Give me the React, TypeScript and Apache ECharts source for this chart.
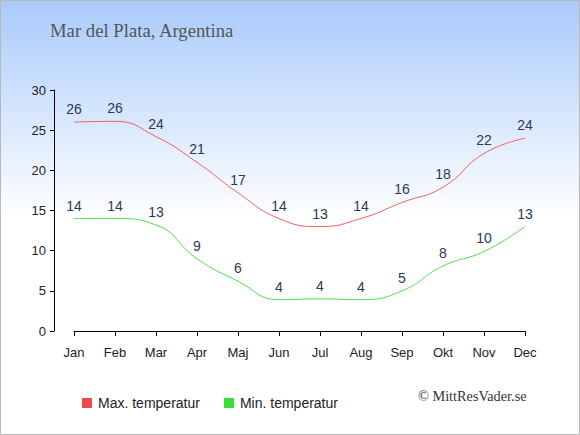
import React, { useEffect, useRef } from "react";
import * as echarts from "echarts";

const months = ["Jan", "Feb", "Mar", "Apr", "Maj", "Jun", "Jul", "Aug", "Sep", "Okt", "Nov", "Dec"];
const maxTemp = [26.0, 26.1, 24.2, 21.0, 17.2, 14.0, 13.0, 14.0, 16.0, 17.9, 22.1, 24.0];
const minTemp = [14.0, 14.0, 13.2, 9.0, 6.2, 3.9, 4.0, 3.9, 5.0, 8.1, 9.9, 13.0];
const yTicks = [0, 5, 10, 15, 20, 25, 30];

const labelStyle = {
  show: true,
  position: "top" as const,
  distance: 6,
  fontSize: 14,
  fontFamily: "Liberation Sans, Arial, sans-serif",
  color: "#2b3a57",
  formatter: (p: any) => String(Math.round(p.value)),
};

export default function App() {
  const ref = useRef<HTMLDivElement>(null);
  useEffect(() => {
    if (!ref.current) return;
    const chart = echarts.init(ref.current, null, { renderer: "svg" });
    chart.setOption({
      animation: false,
      backgroundColor: {
        type: "linear",
        x: 0,
        y: 0,
        x2: 0,
        y2: 1,
        colorStops: [
          { offset: 0, color: "#a9cafb" },
          { offset: 0.5, color: "#ffffff" },
          { offset: 1, color: "#ffffff" },
        ],
      },
      title: {
        text: "Mar del Plata, Argentina",
        left: 50,
        top: 21,
        padding: 0,
        textStyle: {
          fontFamily: "Liberation Serif, serif",
          fontWeight: "normal",
          fontSize: 18.7,
          color: "#555555",
        },
      },
      grid: { left: 74, right: 55, top: 90, bottom: 104 },
      xAxis: {
        type: "category",
        data: months,
        boundaryGap: false,
        offset: 10,
        axisLine: { lineStyle: { color: "#000", width: 1 } },
        axisTick: { show: true, length: 5, lineStyle: { color: "#000" } },
        axisLabel: {
          margin: 5,
          fontSize: 13,
          fontFamily: "Liberation Sans, Arial, sans-serif",
          color: "#222",
        },
        splitLine: { show: false },
      },
      yAxis: {
        type: "value",
        min: yTicks[0],
        max: yTicks[yTicks.length - 1],
        interval: 5,
        offset: 20,
        axisLine: { show: true, lineStyle: { color: "#000", width: 1 } },
        axisTick: { show: true, length: 4, lineStyle: { color: "#000" } },
        axisLabel: {
          margin: 8,
          fontSize: 13,
          fontFamily: "Liberation Sans, Arial, sans-serif",
          color: "#222",
        },
        splitLine: { show: false },
      },
      legend: {
        left: 77,
        top: 391,
        itemWidth: 10,
        itemHeight: 10,
        itemGap: 24,
        icon: "rect",
        textStyle: {
          fontSize: 14,
          fontFamily: "Liberation Sans, Arial, sans-serif",
          color: "#222",
          padding: [0, 0, 0, 1],
        },
        data: [
          { name: "Max. temperatur", itemStyle: { color: "#f04848" } },
          { name: "Min. temperatur", itemStyle: { color: "#33e033" } },
        ],
      },
      graphic: [
        {
          type: "text",
          left: 418,
          top: 389,
          style: {
            text: "© MittResVader.se",
            fontFamily: "Liberation Serif, serif",
            fontSize: 14.3,
            fill: "#333",
          },
        },
        {
          type: "rect",
          shape: { x: 0.5, y: 0.5, width: 579, height: 434 },
          style: { fill: "none", stroke: "#b8b8b8", lineWidth: 1 },
          silent: true,
        },
      ],
      series: [
        {
          name: "Max. temperatur",
          type: "line",
          data: maxTemp,
          smooth: 0.5,
          symbol: "circle",
          symbolSize: 0,
          showSymbol: true,
          itemStyle: { color: "#f04848" },
          lineStyle: { color: "#f26060", width: 1 },
          label: labelStyle,
        },
        {
          name: "Min. temperatur",
          type: "line",
          data: minTemp,
          smooth: 0.5,
          symbol: "circle",
          symbolSize: 0,
          showSymbol: true,
          itemStyle: { color: "#33e033" },
          lineStyle: { color: "#4de04d", width: 1 },
          label: labelStyle,
        },
      ],
    });
    return () => chart.dispose();
  }, []);
  return (
    <div
      ref={ref}
      style={{ position: "absolute", left: 0, top: 0, width: 580, height: 435 }}
    />
  );
}
